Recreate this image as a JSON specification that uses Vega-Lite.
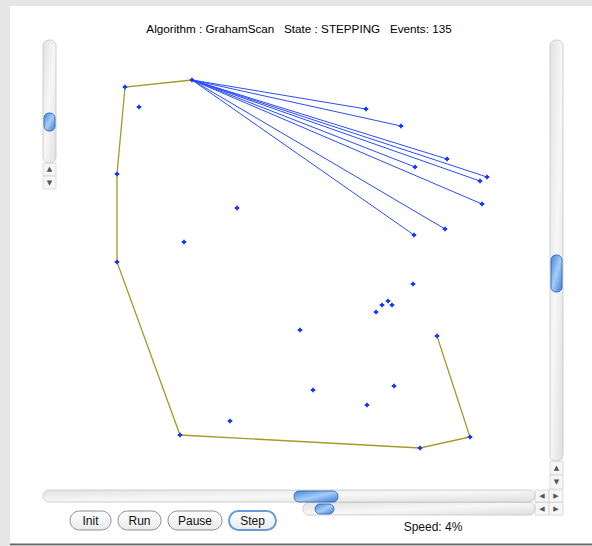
{
  "$schema": "https://vega.github.io/schema/vega-lite/v6.json",
  "width": 592,
  "height": 546,
  "autosize": {"type": "fit", "contains": "padding"},
  "padding": 0,
  "background": "#e6e6e6",
  "config": {"view": {"stroke": null}},
  "datasets": {
    "panel": [{"x": 10, "x2": 592, "y": 6, "y2": 544}],
    "bottom": [{"x": 10, "x2": 592, "y": 543.5, "y2": 545.2}],
    "tracks": [
      {"x": 43, "x2": 56, "y": 40, "y2": 163},
      {"x": 550, "x2": 563, "y": 40, "y2": 461},
      {"x": 43, "x2": 535, "y": 490, "y2": 502},
      {"x": 303, "x2": 535, "y": 502.5, "y2": 515}
    ],
    "boxes": [
      {"x": 43, "x2": 56, "y": 163, "y2": 176},
      {"x": 43, "x2": 56, "y": 176, "y2": 189},
      {"x": 550, "x2": 563, "y": 461, "y2": 475},
      {"x": 550, "x2": 563, "y": 475, "y2": 489},
      {"x": 535, "x2": 549, "y": 490, "y2": 502},
      {"x": 549, "x2": 563, "y": 490, "y2": 502},
      {"x": 535, "x2": 549, "y": 502.5, "y2": 515},
      {"x": 549, "x2": 563, "y": 502.5, "y2": 515}
    ],
    "thumbs": [
      {"x": 44, "x2": 55, "y": 113, "y2": 131},
      {"x": 551, "x2": 562, "y": 255, "y2": 292},
      {"x": 294, "x2": 338, "y": 491, "y2": 502},
      {"x": 315, "x2": 334, "y": 504, "y2": 514}
    ],
    "arrows": [
      {"x": 49.5, "y": 169, "t": "▲"},
      {"x": 49.5, "y": 183, "t": "▼"},
      {"x": 556.5, "y": 468, "t": "▲"},
      {"x": 556.5, "y": 482, "t": "▼"},
      {"x": 542, "y": 496, "t": "◀"},
      {"x": 556, "y": 496, "t": "▶"},
      {"x": 542, "y": 509, "t": "◀"},
      {"x": 556, "y": 509, "t": "▶"}
    ],
    "buttons": [
      {"x": 70, "x2": 111, "y": 511, "y2": 530},
      {"x": 118, "x2": 161, "y": 511, "y2": 530},
      {"x": 168, "x2": 222, "y": 511, "y2": 530}
    ],
    "stepbutton": [{"x": 229, "x2": 276, "y": 511, "y2": 530}],
    "labels": [
      {"x": 90.5, "y": 520.5, "t": "Init"},
      {"x": 139.5, "y": 520.5, "t": "Run"},
      {"x": 195, "y": 520.5, "t": "Pause"},
      {"x": 252.5, "y": 520.5, "t": "Step"},
      {"x": 433, "y": 527, "t": "Speed: 4%"}
    ],
    "title": [
      {"x": 299, "y": 29, "t": "Algorithm : GrahamScan\u00a0\u00a0\u00a0State : STEPPING\u00a0\u00a0\u00a0Events: 135"}
    ],
    "hull": [
      {"i": 1, "x": 437, "y": 336},
      {"i": 2, "x": 470, "y": 437},
      {"i": 3, "x": 420, "y": 448},
      {"i": 4, "x": 180, "y": 435},
      {"i": 5, "x": 117, "y": 262},
      {"i": 6, "x": 117, "y": 174},
      {"i": 7, "x": 125, "y": 87},
      {"i": 8, "x": 192, "y": 80}
    ],
    "rays": [
      {"x": 192, "y": 80, "x2": 366, "y2": 109},
      {"x": 192, "y": 80, "x2": 401, "y2": 126},
      {"x": 192, "y": 80, "x2": 447, "y2": 159},
      {"x": 192, "y": 80, "x2": 415, "y2": 167},
      {"x": 192, "y": 80, "x2": 487, "y2": 177},
      {"x": 192, "y": 80, "x2": 480, "y2": 181},
      {"x": 192, "y": 80, "x2": 482, "y2": 204},
      {"x": 192, "y": 80, "x2": 445, "y2": 229},
      {"x": 192, "y": 80, "x2": 414, "y2": 235}
    ],
    "points": [
      {"x": 125, "y": 87}, {"x": 192, "y": 80}, {"x": 139, "y": 107}, {"x": 117, "y": 174},
      {"x": 237, "y": 208}, {"x": 184, "y": 242}, {"x": 366, "y": 109}, {"x": 401, "y": 126},
      {"x": 447, "y": 159}, {"x": 415, "y": 167}, {"x": 487, "y": 177}, {"x": 480, "y": 181},
      {"x": 482, "y": 204}, {"x": 445, "y": 229}, {"x": 414, "y": 235}, {"x": 117, "y": 262},
      {"x": 180, "y": 435}, {"x": 230, "y": 421}, {"x": 300, "y": 330}, {"x": 413, "y": 284},
      {"x": 388, "y": 301}, {"x": 382, "y": 305}, {"x": 392, "y": 305}, {"x": 376, "y": 312},
      {"x": 437, "y": 336}, {"x": 313, "y": 390}, {"x": 394, "y": 386}, {"x": 367, "y": 405},
      {"x": 470, "y": 437}, {"x": 420, "y": 448}
    ]
  },
  "encoding": {
    "x": {"field": "x", "type": "quantitative", "scale": {"domain": [0, 592], "nice": false, "zero": false}, "axis": null},
    "y": {"field": "y", "type": "quantitative", "scale": {"domain": [0, 546], "nice": false, "zero": false, "reverse": true}, "axis": null}
  },
  "layer": [
    {
      "data": {"name": "panel"},
      "mark": {"type": "rect", "fill": "#ffffff"},
      "encoding": {"x2": {"field": "x2"}, "y2": {"field": "y2"}}
    },
    {
      "data": {"name": "bottom"},
      "mark": {"type": "rect", "fill": "#666666"},
      "encoding": {"x2": {"field": "x2"}, "y2": {"field": "y2"}}
    },
    {
      "data": {"name": "boxes"},
      "mark": {"type": "rect", "fill": "#f6f6f6", "stroke": "#d4d4d4", "strokeWidth": 0.8},
      "encoding": {"x2": {"field": "x2"}, "y2": {"field": "y2"}}
    },
    {
      "data": {"name": "tracks"},
      "mark": {"type": "rect", "cornerRadius": 6, "stroke": "#c4c4c4", "strokeWidth": 0.8,
        "fill": {"gradient": "linear", "x1": 0, "y1": 0, "x2": 1, "y2": 1,
          "stops": [{"offset": 0, "color": "#e2e2e2"}, {"offset": 0.5, "color": "#f7f7f7"}, {"offset": 1, "color": "#dedede"}]}},
      "encoding": {"x2": {"field": "x2"}, "y2": {"field": "y2"}}
    },
    {
      "data": {"name": "thumbs"},
      "mark": {"type": "rect", "cornerRadius": 5, "stroke": "#2c5fae", "strokeWidth": 0.8,
        "fill": {"gradient": "linear", "x1": 0, "y1": 0, "x2": 1, "y2": 1,
          "stops": [{"offset": 0, "color": "#3f86dc"}, {"offset": 0.5, "color": "#a6cdf5"}, {"offset": 1, "color": "#3a7fd6"}]}},
      "encoding": {"x2": {"field": "x2"}, "y2": {"field": "y2"}}
    },
    {
      "data": {"name": "arrows"},
      "mark": {"type": "text", "font": "DejaVu Sans", "fontSize": 7, "color": "#555555", "baseline": "middle", "align": "center"},
      "encoding": {"text": {"field": "t"}}
    },
    {
      "data": {"name": "buttons"},
      "mark": {"type": "rect", "cornerRadius": 9.5, "stroke": "#8c8c8c", "strokeWidth": 1,
        "fill": {"gradient": "linear", "x1": 0, "y1": 0, "x2": 0, "y2": 1,
          "stops": [{"offset": 0, "color": "#ffffff"}, {"offset": 1, "color": "#eaeaea"}]}},
      "encoding": {"x2": {"field": "x2"}, "y2": {"field": "y2"}}
    },
    {
      "data": {"name": "stepbutton"},
      "mark": {"type": "rect", "cornerRadius": 9.5, "stroke": "#6a9ad8", "strokeWidth": 2,
        "fill": {"gradient": "linear", "x1": 0, "y1": 0, "x2": 0, "y2": 1,
          "stops": [{"offset": 0, "color": "#ffffff"}, {"offset": 1, "color": "#eaeaea"}]}},
      "encoding": {"x2": {"field": "x2"}, "y2": {"field": "y2"}}
    },
    {
      "data": {"name": "labels"},
      "mark": {"type": "text", "font": "Liberation Sans", "fontSize": 12, "color": "#111111", "baseline": "middle", "align": "center"},
      "encoding": {"text": {"field": "t"}}
    },
    {
      "data": {"name": "title"},
      "mark": {"type": "text", "font": "Liberation Sans", "fontSize": 11.7, "color": "#000000", "baseline": "middle", "align": "center"},
      "encoding": {"text": {"field": "t"}}
    },
    {
      "data": {"name": "rays"},
      "mark": {"type": "rule", "color": "#2a4dff", "strokeWidth": 1},
      "encoding": {"x2": {"field": "x2"}, "y2": {"field": "y2"}}
    },
    {
      "data": {"name": "hull"},
      "mark": {"type": "line", "color": "#a39a2a", "strokeWidth": 1.3},
      "encoding": {"order": {"field": "i", "type": "quantitative"}}
    },
    {
      "data": {"name": "points"},
      "mark": {"type": "point", "shape": "cross", "filled": true, "size": 20, "color": "#1438ff", "opacity": 1},
      "encoding": {}
    }
  ]
}
